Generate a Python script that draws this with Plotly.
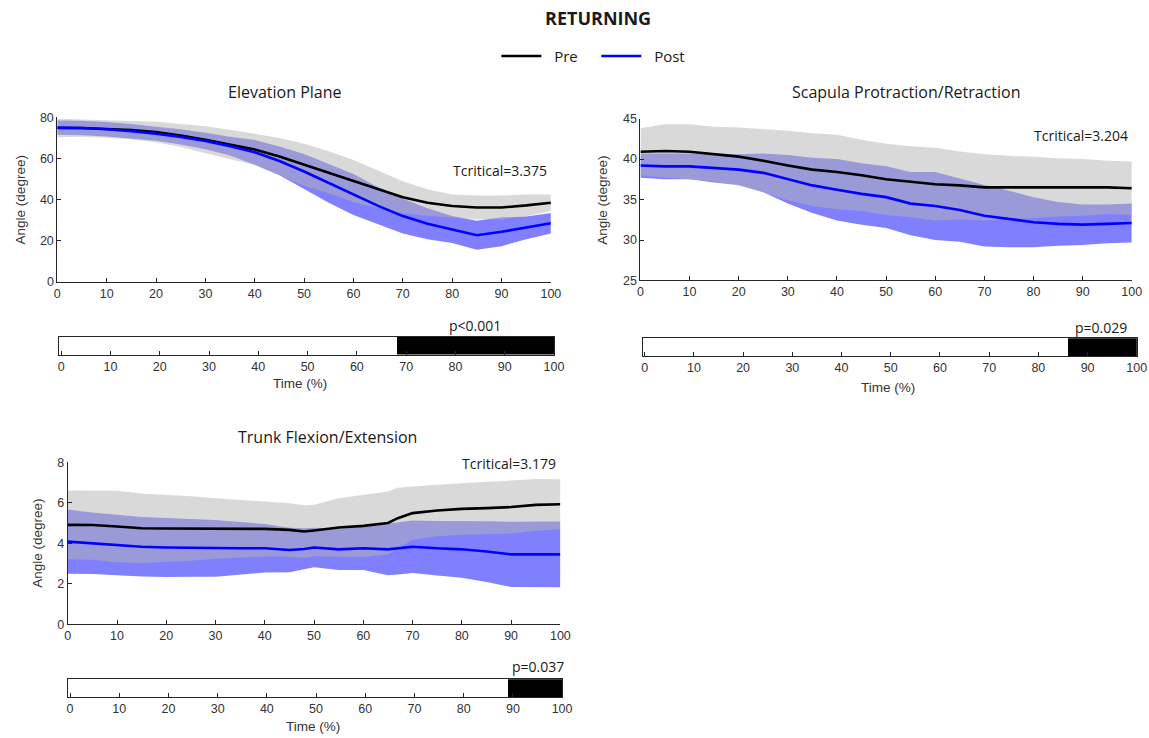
import plotly.graph_objects as go

W, H = 1149, 738

# ---------------- data ----------------
time_pct = [0, 5, 10, 15, 20, 25, 30, 35, 40, 45, 50, 55, 60, 65, 70, 75, 80, 85, 90, 95, 100]

elev_pre_mean = [74.8, 74.8, 74.3, 73.8, 72.9, 71.2, 69.1, 66.8, 64.4, 61.0, 57.0, 53.3, 49.0, 45.0, 41.2, 38.5, 36.9, 36.2, 36.2, 37.2, 38.5]
elev_pre_sd   = [4.5, 4.2, 4.2, 4.4, 5.0, 5.6, 6.6, 7.2, 7.6, 9.0, 10.2, 10.2, 10.3, 9.0, 7.8, 6.5, 5.6, 5.8, 5.8, 5.3, 4.0]
elev_post_mean = [75.0, 74.8, 74.2, 73.3, 72.0, 70.5, 68.5, 66.0, 63.0, 58.8, 53.7, 48.0, 42.5, 37.0, 32.0, 28.3, 25.5, 22.7, 24.4, 26.3, 28.5]
elev_post_sd   = [3.5, 3.5, 3.5, 3.5, 3.4, 3.7, 4.0, 4.5, 6.0, 7.0, 8.5, 9.5, 10.0, 9.0, 8.5, 7.5, 6.5, 7.0, 7.0, 5.5, 5.0]

scap_pre_mean = [40.9, 41.0, 40.9, 40.6, 40.3, 39.8, 39.2, 38.7, 38.4, 38.0, 37.5, 37.2, 36.9, 36.75, 36.5, 36.5, 36.5, 36.5, 36.5, 36.5, 36.4]
scap_pre_sd   = [2.9, 3.3, 3.4, 3.4, 3.6, 3.9, 4.3, 4.5, 4.6, 4.4, 4.4, 4.4, 4.5, 4.2, 4.1, 3.9, 3.8, 3.6, 3.5, 3.3, 3.3]
scap_post_mean = [39.2, 39.1, 39.1, 38.9, 38.7, 38.3, 37.5, 36.75, 36.2, 35.7, 35.3, 34.5, 34.2, 33.7, 33.0, 32.6, 32.2, 32.0, 31.9, 32.0, 32.1]
scap_post_sd   = [1.5, 1.6, 1.6, 1.8, 1.9, 2.4, 3.0, 3.4, 3.8, 3.8, 3.8, 3.9, 4.2, 3.9, 3.8, 3.5, 3.1, 2.7, 2.5, 2.4, 2.4]

trunk_time = [0, 5, 10, 15, 20, 25, 30, 35, 40, 45, 48, 50, 55, 60, 65, 67, 70, 75, 80, 85, 90, 95, 100]
trunk_pre_mean = [4.91, 4.90, 4.83, 4.74, 4.73, 4.73, 4.73, 4.72, 4.71, 4.66, 4.58, 4.63, 4.78, 4.86, 5.0, 5.24, 5.49, 5.62, 5.70, 5.74, 5.79, 5.90, 5.93]
trunk_pre_sd   = [1.7, 1.72, 1.77, 1.72, 1.67, 1.6, 1.5, 1.42, 1.36, 1.32, 1.3, 1.27, 1.45, 1.54, 1.56, 1.5, 1.32, 1.27, 1.28, 1.3, 1.31, 1.28, 1.24]
trunk_post_mean = [4.08, 4.0, 3.92, 3.83, 3.79, 3.77, 3.75, 3.75, 3.75, 3.67, 3.72, 3.79, 3.7, 3.75, 3.7, 3.75, 3.83, 3.75, 3.7, 3.59, 3.45, 3.45, 3.45]
trunk_post_sd   = [1.59, 1.52, 1.49, 1.47, 1.46, 1.43, 1.4, 1.3, 1.2, 1.1, 1.02, 0.98, 1.02, 1.07, 1.28, 1.3, 1.3, 1.35, 1.4, 1.5, 1.61, 1.63, 1.63]

panel_titles = ["Elevation Plane", "Scapula Protraction/Retraction", "Trunk Flexion/Extension"]
tcritical_labels = ["Tcritical=3.375", "Tcritical=3.204", "Tcritical=3.179"]
p_labels = ["p<0.001", "p=0.029", "p=0.037"]
sig_start = [68.1, 86.0, 89.0]   # start of significant cluster (% time)
y_ranges = [[0, 80], [25, 45], [0, 8]]
y_dticks = [20, 5, 2]

# ---------------- layout geometry (target px -> paper) ----------------
def fx(px):
    return ((px - 3.0) / 0.988) / W

def fy(py):
    return 1 - ((py - 6.8) / 0.98) / H

main_boxes = [(57.3, 550.5, 117, 281.5), (640, 1131, 118.3, 280), (67.7, 560, 461.7, 623.3)]
bar_boxes = [(59.2, 553.6, 336.5, 354), (642.3, 1136, 337.7, 355.7), (68, 561.7, 678.3, 696)]

AX = "#262626"
TICKFONT = dict(family="Liberation Sans", size=12.5, color="#333333")
TXTFONT = "Open Sans"

fig = go.Figure()

panels = [
    (time_pct, elev_pre_mean, elev_pre_sd, elev_post_mean, elev_post_sd),
    (time_pct, scap_pre_mean, scap_pre_sd, scap_post_mean, scap_post_sd),
    (trunk_time, trunk_pre_mean, trunk_pre_sd, trunk_post_mean, trunk_post_sd),
]

layout = {}
for i, (t, pm, ps, qm, qs) in enumerate(panels):
    xa, ya = f"x{2*i+1}", f"y{2*i+1}"
    xb, yb = f"x{2*i+2}", f"y{2*i+2}"
    # bands
    for mean, sd, col in [(qm, qs, "rgb(128,128,255)"), (pm, ps, "rgba(179,179,179,0.5)")]:
        up = [m + s for m, s in zip(mean, sd)]
        lo = [m - s for m, s in zip(mean, sd)]
        fig.add_trace(go.Scatter(x=list(t) + list(t)[::-1], y=up + lo[::-1], fill="toself",
                                 fillcolor=col, line=dict(width=0), mode="lines",
                                 hoverinfo="skip", showlegend=False, xaxis=xa, yaxis=ya))
    fig.add_trace(go.Scatter(x=t, y=pm, mode="lines", line=dict(color="black", width=2.6),
                             name="\u00a0\u00a0Pre", showlegend=(i == 0), xaxis=xa, yaxis=ya))
    fig.add_trace(go.Scatter(x=t, y=qm, mode="lines", line=dict(color="rgb(0,0,255)", width=2.6),
                             name="\u00a0\u00a0Post", showlegend=(i == 0), xaxis=xa, yaxis=ya))
    # significance bar
    fig.add_trace(go.Bar(x=[100 - sig_start[i]], base=[sig_start[i]], y=[0], orientation="h",
                         width=1, marker=dict(color="black", line=dict(width=0)),
                         showlegend=False, hoverinfo="skip", xaxis=xb, yaxis=yb))

    l, r, tp, bt = main_boxes[i]
    key = "" if i == 0 else str(2 * i + 1)
    layout[f"xaxis{key}"] = dict(domain=[fx(l), fx(r)], anchor=ya, range=[0, 100], dtick=10,
                                 ticks="inside", ticklen=4, tickcolor=AX, showline=True,
                                 linecolor=AX, linewidth=1, showgrid=False, zeroline=False,
                                 tickfont=TICKFONT)
    layout[f"yaxis{key}"] = dict(domain=[fy(bt), fy(tp)], anchor=xa, range=y_ranges[i],
                                 dtick=y_dticks[i], ticks="inside", ticklen=4, tickcolor=AX,
                                 showline=True, linecolor=AX, linewidth=1, showgrid=False,
                                 zeroline=False, tickfont=TICKFONT)
    l, r, tp, bt = bar_boxes[i]
    keyb = str(2 * i + 2)
    layout[f"xaxis{keyb}"] = dict(domain=[fx(l), fx(r)], anchor=yb, range=[-0.4, 100],
                                  tickvals=list(range(0, 101, 10)), ticks="inside", ticklen=4,
                                  tickcolor=AX, showline=True, mirror=True, linecolor=AX,
                                  linewidth=1, showgrid=False, zeroline=False, tickfont=TICKFONT)
    layout[f"yaxis{keyb}"] = dict(domain=[fy(bt), fy(tp)], anchor=xb, range=[-0.5, 0.5],
                                  showticklabels=False, ticks="", showline=True, mirror=True,
                                  linecolor=AX, linewidth=1, showgrid=False, zeroline=False)

ann = []
def add_text(text, x, y, size, anchor="center", bold=False, angle=0, family=TXTFONT, color="#1a1a1a"):
    ann.append(dict(text=f"<b>{text}</b>" if bold else text, x=fx(x), y=fy(y), xref="paper",
                    yref="paper", showarrow=False, xanchor=anchor, yanchor="middle",
                    textangle=angle, font=dict(family=family, size=size, color=color)))

add_text("RETURNING", 598, 18, 18, bold=True)
title_pos = [(285, 92), (905, 92), (327, 436)]
tcrit_pos = [(549, 170), (1129, 135), (558, 463)]
p_pos = [(475, 325), (1100, 327), (538, 666)]
ylab_pos = [(20, 200), (602, 200), (38, 543)]
time_pos = [(300, 383), (887, 387), (313, 726)]
for i in range(3):
    add_text(panel_titles[i], *title_pos[i], 16)
    add_text(tcritical_labels[i], *tcrit_pos[i], 14, anchor="right")
    add_text(p_labels[i], *p_pos[i], 14)
    add_text("Angle (degree)", *ylab_pos[i], 13.5, angle=-90, family="Liberation Sans", color="#333333")
    add_text("Time (%)", *time_pos[i], 13.5, family="Liberation Sans", color="#333333")

fig.update_layout(
    width=W, height=H, margin=dict(l=0, r=0, t=0, b=0),
    paper_bgcolor="white", plot_bgcolor="white",
    showlegend=True,
    legend=dict(orientation="h", x=fx(496), xanchor="left", y=fy(56), yanchor="middle",
                font=dict(family=TXTFONT, size=15, color="#1a1a1a"), bgcolor="rgba(0,0,0,0)",
                itemwidth=40, entrywidth=45, entrywidthmode="pixels"),
    annotations=ann,
    bargap=0,
    **layout,
)

fig.write_html("out.html")
